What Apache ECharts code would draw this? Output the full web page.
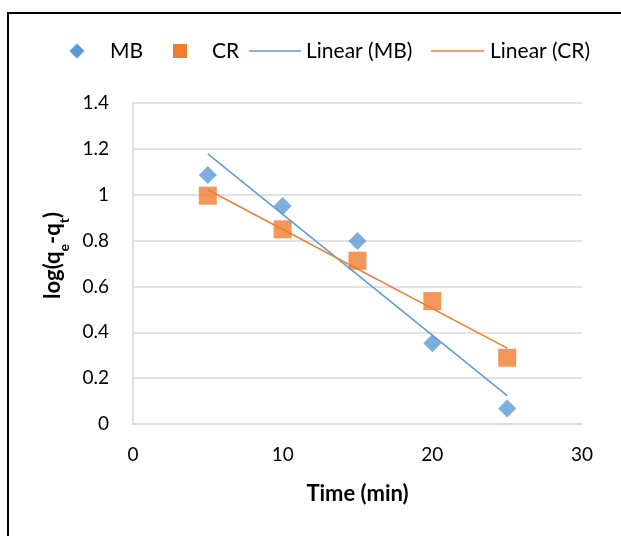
<!DOCTYPE html>
<html>
<head>
<meta charset="utf-8">
<script src="https://cdn.jsdelivr.net/npm/echarts@6/dist/echarts.min.js"></script>
<style>
  html, body { margin: 0; padding: 0; background: #ffffff; }
  #chart { width: 621px; height: 536px; }
</style>
</head>
<body>
<div id="chart"></div>
<script>
// Pseudo-first-order kinetics: log(qe - qt) against contact time
const timeMin = [5, 10, 15, 20, 25];
const mbValues = [1.086, 0.951, 0.798, 0.352, 0.068];
const crValues = [0.996, 0.849, 0.712, 0.536, 0.289];
const xTicks = [0, 10, 20, 30];
const yTicks = [0, 0.2, 0.4, 0.6, 0.8, 1, 1.2, 1.4];
const seriesNames = ['MB', 'CR', 'Linear (MB)', 'Linear (CR)'];

const BLUE = '#5B9BD5';
const ORANGE = '#ED7D31';
const FONT = 'Lato, "Open Sans", sans-serif';

// Least-squares trendline, evaluated at the first and last time point
function linearFit(xs, ys) {
  const n = xs.length;
  const mx = xs.reduce((a, b) => a + b, 0) / n;
  const my = ys.reduce((a, b) => a + b, 0) / n;
  let sxy = 0, sxx = 0;
  for (let i = 0; i < n; i++) {
    sxy += (xs[i] - mx) * (ys[i] - my);
    sxx += (xs[i] - mx) * (xs[i] - mx);
  }
  const slope = sxy / sxx;
  const icpt = my - slope * mx;
  const x0 = xs[0], x1 = xs[n - 1];
  return [[x0, icpt + slope * x0], [x1, icpt + slope * x1]];
}

const pairs = (xs, ys) => xs.map((x, i) => [x, ys[i]]);

// Legend row drawn as graphic elements (marker keys + trendline keys)
const LEG_Y = 51;
const legendText = (x, s) => ({
  type: 'text', x: x, y: LEG_Y,
  style: { text: s, font: '21px ' + FONT, fill: '#000000', verticalAlign: 'middle', align: 'left' }
});
const legendGraphics = [
  { type: 'polygon', shape: { points: [[77, LEG_Y - 7.5], [84.5, LEG_Y], [77, LEG_Y + 7.5], [69.5, LEG_Y]] }, style: { fill: BLUE } },
  legendText(110, seriesNames[0]),
  { type: 'rect', shape: { x: 173, y: LEG_Y - 7, width: 14, height: 14 }, style: { fill: ORANGE } },
  legendText(212, seriesNames[1]),
  { type: 'line', shape: { x1: 249, y1: LEG_Y, x2: 301, y2: LEG_Y }, style: { stroke: BLUE, lineWidth: 1.5 } },
  legendText(306, seriesNames[2]),
  { type: 'line', shape: { x1: 431, y1: LEG_Y, x2: 484, y2: LEG_Y }, style: { stroke: ORANGE, lineWidth: 1.5 } },
  legendText(490, seriesNames[3])
];

const chart = echarts.init(document.getElementById('chart'), null, { renderer: 'canvas' });

chart.setOption({
  animation: false,
  backgroundColor: '#ffffff',
  textStyle: { fontFamily: FONT },
  graphic: [{
    type: 'rect',
    shape: { x: 8, y: 13, width: 700, height: 600 },
    style: { fill: 'none', stroke: '#000000', lineWidth: 2 },
    silent: true
  }].concat(legendGraphics),
  grid: { left: 133, right: 39, top: 103, bottom: 112, containLabel: false },
  xAxis: {
    type: 'value',
    min: xTicks[0],
    max: xTicks[xTicks.length - 1],
    interval: xTicks[1] - xTicks[0],
    name: 'Time (min)',
    nameLocation: 'middle',
    nameGap: 59,
    nameTextStyle: { fontFamily: FONT, fontSize: 22, fontWeight: 'bold', color: '#000000' },
    axisLine: { show: true, lineStyle: { color: '#d9d9d9', width: 1.5 } },
    axisTick: { show: false },
    splitLine: { show: false },
    axisLabel: { fontFamily: FONT, fontSize: 19, color: '#000000', margin: 21 }
  },
  yAxis: {
    type: 'value',
    min: yTicks[0],
    max: yTicks[yTicks.length - 1],
    interval: 0.2,
    name: '{m|log(q}{s|e}{m|-q}{s|t}{m|)}',
    nameLocation: 'middle',
    nameGap: 57,
    nameRotate: 90,
    nameTextStyle: {
      fontFamily: FONT, fontSize: 22, fontWeight: 'bold', color: '#000000',
      padding: [0, 0, 0, 16],
      rich: {
        m: { fontFamily: FONT, fontSize: 22, fontWeight: 'bold', color: '#000000', lineHeight: 30, verticalAlign: 'top' },
        s: { fontFamily: FONT, fontSize: 14, fontWeight: 'bold', color: '#000000', lineHeight: 14, verticalAlign: 'bottom' }
      }
    },
    axisLine: { show: true, lineStyle: { color: '#d9d9d9', width: 1.5 } },
    axisTick: { show: false },
    splitLine: { show: true, lineStyle: { color: '#d9d9d9', width: 1.5 } },
    axisLabel: {
      fontFamily: FONT, fontSize: 19, color: '#000000', margin: 24,
      formatter: v => String(Math.round(v * 10) / 10)
    }
  },
  series: [
    {
      name: seriesNames[0], type: 'scatter', symbol: 'diamond', symbolSize: 18,
      itemStyle: { color: BLUE },
      data: pairs(timeMin, mbValues), z: 3
    },
    {
      name: seriesNames[1], type: 'scatter', symbol: 'rect', symbolSize: 18,
      itemStyle: { color: ORANGE },
      data: pairs(timeMin, crValues), z: 3
    },
    {
      name: seriesNames[2], type: 'line', symbol: 'none',
      lineStyle: { color: BLUE, width: 1.5 },
      data: linearFit(timeMin, mbValues), z: 4
    },
    {
      name: seriesNames[3], type: 'line', symbol: 'none',
      lineStyle: { color: ORANGE, width: 1.5 },
      data: linearFit(timeMin, crValues), z: 4
    }
  ]
});
</script>
</body>
</html>
